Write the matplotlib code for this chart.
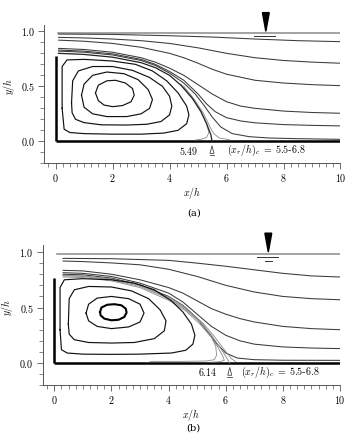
import matplotlib
matplotlib.use('Agg')
import matplotlib.pyplot as plt
from matplotlib.patches import Polygon
from matplotlib.ticker import MultipleLocator, FixedLocator

plt.rcParams['mathtext.fontset'] = 'cm'
plt.rcParams['font.family'] = ['DejaVu Serif']

# ---------------- panel (a) data ----------------
a_xr = 5.49
a_surf_x = [0.1, 10]
a_surf_y = [0.988, 0.988]
a_s1_x = [0.1, 2, 4, 5.5, 7, 8.5, 10]
a_s1_y = [0.975, 0.972, 0.96, 0.948, 0.93, 0.915, 0.906]
a_s2_x = [0.1, 1, 2, 3, 4, 5, 6, 7, 8, 9, 10]
a_s2_y = [0.945, 0.94, 0.93, 0.915, 0.89, 0.85, 0.8, 0.76, 0.735, 0.72, 0.71]
a_s3_x = [0.1, 1, 2, 3, 4, 4.5, 5, 5.5, 6, 7, 8, 9, 10]
a_s3_y = [0.92, 0.91, 0.89, 0.855, 0.8, 0.76, 0.71, 0.655, 0.61, 0.555, 0.53, 0.515, 0.506]
a_s4_x = [0.1, 1, 2, 3, 3.5, 4, 4.5, 5, 5.5, 6, 6.5, 7, 8, 9, 10]
a_s4_y = [0.845, 0.835, 0.81, 0.76, 0.72, 0.665, 0.6, 0.515, 0.43, 0.36, 0.32, 0.3, 0.275, 0.262, 0.255]
a_s5_x = [0.1, 1, 2, 3, 3.5, 4, 4.5, 5, 5.3, 5.6, 6, 6.5, 7, 8, 9, 10]
a_s5_y = [0.83, 0.82, 0.795, 0.745, 0.7, 0.635, 0.555, 0.43, 0.34, 0.27, 0.215, 0.185, 0.168, 0.152, 0.145, 0.14]
a_s6_x = [0.1, 1, 2, 3, 3.5, 4, 4.5, 4.9, 5.2, 5.5, 5.8, 6.2, 6.8, 7.5, 8.5, 10]
a_s6_y = [0.82, 0.81, 0.785, 0.735, 0.69, 0.62, 0.53, 0.43, 0.33, 0.22, 0.13, 0.07, 0.042, 0.03, 0.024, 0.018]
a_sep_x = [0.1, 1, 2, 3, 3.5, 4, 4.4, 4.8, 5.1, 5.3, 5.45, 5.49]
a_sep_y = [0.8, 0.79, 0.765, 0.715, 0.67, 0.6, 0.51, 0.39, 0.27, 0.16, 0.06, 0.0]
a_g1_x = [4.4, 4.8, 5.1, 5.3, 5.38, 5.3, 5.1, 4.9]
a_g1_y = [0.52, 0.4, 0.28, 0.16, 0.08, 0.035, 0.018, 0.012]
a_g2_x = [4.5, 4.9, 5.2, 5.4, 5.55, 5.75, 6.1]
a_g2_y = [0.5, 0.37, 0.25, 0.14, 0.07, 0.03, 0.015]
a_l4_x = [0.23, 0.23, 0.4, 1.0, 2.0, 2.8, 3.4, 3.9, 4.3, 4.6, 4.68, 4.6, 4.3, 3.8, 3.0, 2.0, 1.0, 0.5, 0.3, 0.23]
a_l4_y = [0.3, 0.68, 0.74, 0.745, 0.73, 0.7, 0.64, 0.55, 0.44, 0.32, 0.24, 0.16, 0.1, 0.075, 0.065, 0.065, 0.07, 0.08, 0.11, 0.3]
a_l3_x = [0.56, 0.6, 0.8, 1.3, 2.0, 2.7, 3.3, 3.75, 4.0, 4.08, 4.0, 3.7, 3.2, 2.5, 1.6, 1.0, 0.7, 0.58, 0.56]
a_l3_y = [0.35, 0.55, 0.64, 0.68, 0.68, 0.645, 0.58, 0.5, 0.41, 0.32, 0.24, 0.18, 0.155, 0.148, 0.15, 0.17, 0.2, 0.26, 0.35]
a_l2_x = [0.91, 1.0, 1.3, 1.8, 2.4, 2.9, 3.25, 3.4, 3.3, 3.0, 2.5, 1.8, 1.3, 1.0, 0.91]
a_l2_y = [0.42, 0.52, 0.6, 0.63, 0.615, 0.56, 0.47, 0.38, 0.3, 0.25, 0.225, 0.225, 0.25, 0.31, 0.42]
a_l1_x = [1.4, 1.5, 1.8, 2.1, 2.45, 2.7, 2.76, 2.65, 2.35, 2.0, 1.7, 1.5, 1.4]
a_l1_y = [0.44, 0.51, 0.55, 0.555, 0.53, 0.48, 0.42, 0.36, 0.325, 0.315, 0.33, 0.37, 0.44]

# ---------------- panel (b) data ----------------
b_xr = 6.14
b_surf_x = [0.1, 10]
b_surf_y = [0.985, 0.985]
b_s1_x = [0.3, 2, 4, 5, 6, 7, 8, 9, 10]
b_s1_y = [0.943, 0.94, 0.925, 0.9, 0.872, 0.84, 0.808, 0.785, 0.775]
b_s2_x = [0.3, 1, 2, 3, 4, 5, 6, 7, 8, 9, 10]
b_s2_y = [0.919, 0.914, 0.902, 0.885, 0.845, 0.78, 0.7, 0.64, 0.6, 0.58, 0.57]
b_s3_x = [0.3, 1, 2, 3, 4, 4.5, 5, 5.5, 6, 6.5, 7, 8, 9, 10]
b_s3_y = [0.835, 0.83, 0.8, 0.75, 0.68, 0.63, 0.56, 0.49, 0.44, 0.4, 0.37, 0.33, 0.31, 0.30]
b_s4_x = [0.3, 1, 2, 3, 4, 4.5, 5, 5.5, 6, 6.5, 7, 8, 9, 10]
b_s4_y = [0.814, 0.808, 0.78, 0.72, 0.63, 0.55, 0.44, 0.33, 0.25, 0.2, 0.17, 0.145, 0.135, 0.13]
b_s5_x = [0.3, 1, 2, 3, 4, 4.5, 5, 5.4, 5.7, 6.0, 6.4, 7, 8, 10]
b_s5_y = [0.8, 0.795, 0.765, 0.705, 0.6, 0.52, 0.4, 0.27, 0.17, 0.09, 0.045, 0.03, 0.025, 0.024]
b_g1_x = [0.3, 1, 2, 3, 4, 4.6, 5.1, 5.5, 5.8, 6.0, 6.14]
b_g1_y = [0.785, 0.78, 0.75, 0.69, 0.58, 0.48, 0.37, 0.25, 0.14, 0.06, 0.0]
b_g2_x = [0.3, 1, 2, 3, 4, 4.6, 5.1, 5.5, 5.75, 5.9, 5.95, 5.8, 5.5]
b_g2_y = [0.775, 0.77, 0.74, 0.68, 0.565, 0.47, 0.35, 0.23, 0.13, 0.06, 0.025, 0.012, 0.008]
b_g3_x = [0.3, 1, 2, 3, 4, 4.6, 5.2, 5.6, 5.95, 6.2, 6.35]
b_g3_y = [0.79, 0.785, 0.758, 0.7, 0.59, 0.49, 0.36, 0.24, 0.12, 0.04, 0.012]
b_g4_x = [4.0, 4.6, 5.1, 5.45, 5.65, 5.68, 5.6, 5.3, 4.5, 3.35]
b_g4_y = [0.6, 0.5, 0.38, 0.26, 0.15, 0.07, 0.03, 0.018, 0.015, 0.015]
b_l4_x = [0.2, 0.2, 0.35, 1.0, 2.0, 2.8, 3.5, 4.1, 4.5, 4.8, 4.92, 4.85, 4.6, 4.1, 3.0, 2.0, 1.0, 0.45, 0.25, 0.2]
b_l4_y = [0.3, 0.68, 0.75, 0.76, 0.75, 0.72, 0.66, 0.56, 0.46, 0.35, 0.25, 0.17, 0.115, 0.09, 0.08, 0.078, 0.08, 0.09, 0.12, 0.3]
b_l3_x = [0.49, 0.52, 0.7, 1.2, 2.0, 2.7, 3.3, 3.7, 3.91, 3.85, 3.5, 2.8, 2.0, 1.2, 0.7, 0.52, 0.49]
b_l3_y = [0.35, 0.58, 0.66, 0.69, 0.685, 0.65, 0.58, 0.48, 0.38, 0.29, 0.22, 0.185, 0.18, 0.185, 0.21, 0.26, 0.35]
b_l2_x = [1.11, 1.2, 1.5, 2.0, 2.6, 3.0, 3.14, 3.0, 2.6, 2.0, 1.5, 1.2, 1.11]
b_l2_y = [0.45, 0.53, 0.585, 0.6, 0.58, 0.53, 0.45, 0.37, 0.325, 0.31, 0.33, 0.38, 0.45]
b_l1_x = [1.6, 1.65, 1.85, 2.1, 2.35, 2.5, 2.53, 2.45, 2.25, 2.0, 1.75, 1.62, 1.6]
b_l1_y = [0.46, 0.5, 0.525, 0.53, 0.52, 0.49, 0.455, 0.415, 0.39, 0.385, 0.4, 0.43, 0.46]

x_ticks = [0, 2, 4, 6, 8, 10]
y_ticks = [0.0, 0.5, 1.0]
y_minor = [-0.2, -0.1, 0.1, 0.2, 0.3, 0.4, 0.6, 0.7, 0.8, 0.9]
range_label = r'$(x_r/h)_c\;=\;5.5$-$6.8$'

fig = plt.figure(figsize=(3.46, 4.34), dpi=100)
ax_a = fig.add_axes([0.1277, 0.6237, 0.8564, 0.3548])
ax_b = fig.add_axes([0.124, 0.1124, 0.8587, 0.358])

kw_line = dict(color='#3a3a3a', lw=0.75, solid_joinstyle='round', solid_capstyle='round')
kw_thin = dict(color='#8a8a8a', lw=0.6, solid_joinstyle='round')
kw_loop = dict(color='#111111', lw=0.85, solid_joinstyle='round')
fs = 7.2


def frame(ax, wall_top, surf_x, surf_y, tri_x, dash_lines, xr, xr_text_x, lab_x):
    ax.set_xlim(-0.4, 10)
    ax.set_ylim(-0.2, 1.2)
    for s in ['top', 'right']:
        ax.spines[s].set_visible(False)
    ax.spines['left'].set_bounds(-0.2, 1.06)
    for s in ['left', 'bottom']:
        ax.spines[s].set_linewidth(0.7)
        ax.spines[s].set_color('#555555')
    ax.set_xticks(x_ticks)
    ax.set_xticklabels(['$%d$' % t for t in x_ticks])
    ax.set_yticks(y_ticks)
    ax.set_yticklabels(['$%.1f$' % t for t in y_ticks])
    ax.xaxis.set_minor_locator(MultipleLocator(0.25))
    ax.yaxis.set_minor_locator(FixedLocator(y_minor))
    ax.tick_params(which='major', length=4, width=0.6, color='#555555', labelsize=fs, pad=2.5)
    ax.tick_params(which='minor', length=3, width=0.5, color='#555555')
    ax.set_xlabel('$x/h$', fontsize=fs, labelpad=0.5)
    ax.set_ylabel('$y/h$', fontsize=fs, labelpad=3)
    # walls
    ax.plot([0, 10], [0, 0], color='black', lw=1.8, solid_capstyle='butt')
    ax.plot([0, 0], [0, wall_top], color='black', lw=1.8, solid_capstyle='butt')
    # free surface
    ax.plot(surf_x, surf_y, color='#8a8a8a', lw=1.1)
    ax.add_patch(Polygon([[tri_x - 0.12, 1.17], [tri_x + 0.12, 1.17], [tri_x, 1.0]],
                         closed=True, color='black', clip_on=False))
    for (x0, x1, yy) in dash_lines:
        ax.plot([x0, x1], [yy, yy], color='#333333', lw=0.7)
    # reattachment marker
    ax.add_patch(Polygon([[xr - 0.07, -0.11], [xr + 0.07, -0.11], [xr, -0.04]],
                         closed=True, fill=False, ec='#444444', lw=0.6))
    ax.plot([xr - 0.08, xr + 0.08], [-0.128, -0.128], color='#444444', lw=0.6)
    ax.text(xr_text_x, -0.085, '$%.2f$' % xr, fontsize=fs, ha='center', va='center')
    ax.text(lab_x, -0.085, range_label, fontsize=fs, ha='left', va='center')


frame(ax_a, 0.78, a_surf_x, a_surf_y, 7.38, [(6.98, 7.71, 0.96)], a_xr, 4.68, 6.0)
for xs, ys in [(a_s1_x, a_s1_y), (a_s2_x, a_s2_y), (a_s3_x, a_s3_y), (a_s4_x, a_s4_y),
               (a_s5_x, a_s5_y), (a_s6_x, a_s6_y)]:
    ax_a.plot(xs, ys, **kw_line)
ax_a.plot(a_g1_x, a_g1_y, **kw_thin)
ax_a.plot(a_g2_x, a_g2_y, **kw_thin)
ax_a.plot(a_sep_x, a_sep_y, color='#222222', lw=0.9, solid_joinstyle='round')
for xs, ys in [(a_l4_x, a_l4_y), (a_l3_x, a_l3_y), (a_l2_x, a_l2_y), (a_l1_x, a_l1_y)]:
    ax_a.plot(xs, ys, **kw_loop)

frame(ax_b, 0.77, b_surf_x, b_surf_y, 7.49, [(7.08, 7.83, 0.952), (7.37, 7.61, 0.92)],
      b_xr, 5.36, 6.52)
for xs, ys in [(b_s1_x, b_s1_y), (b_s2_x, b_s2_y), (b_s3_x, b_s3_y), (b_s4_x, b_s4_y),
               (b_s5_x, b_s5_y)]:
    ax_b.plot(xs, ys, **kw_line)
for xs, ys in [(b_g1_x, b_g1_y), (b_g2_x, b_g2_y), (b_g3_x, b_g3_y), (b_g4_x, b_g4_y)]:
    ax_b.plot(xs, ys, **kw_thin)
for xs, ys in [(b_l4_x, b_l4_y), (b_l3_x, b_l3_y), (b_l2_x, b_l2_y)]:
    ax_b.plot(xs, ys, **kw_loop)
ax_b.plot(b_l1_x, b_l1_y, color='black', lw=1.5, solid_joinstyle='round')

fig.text(0.56, 0.509, '(a)', fontsize=fs, ha='center', va='center')
fig.text(0.56, 0.014, '(b)', fontsize=fs, ha='center', va='center')

fig.savefig('out.png', dpi=100)
